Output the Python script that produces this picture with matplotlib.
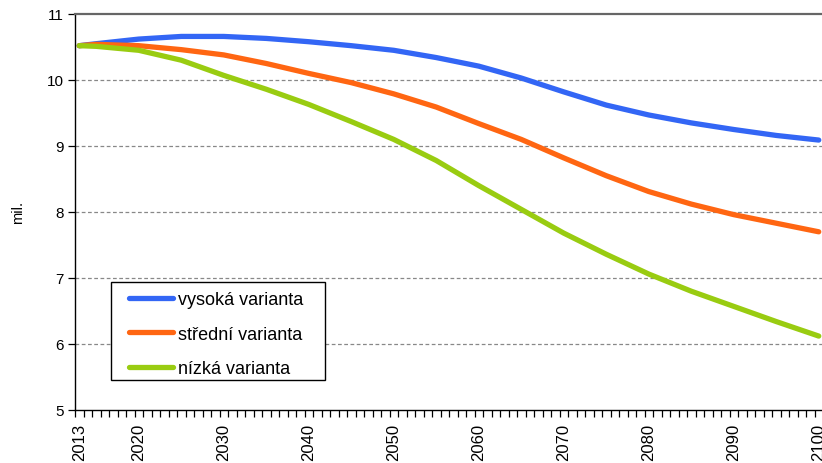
import matplotlib.pyplot as plt
import numpy as np
from matplotlib.patches import Rectangle

plt.rcParams['font.family'] = ['Liberation Sans', 'DejaVu Sans']

# roky a hodnoty (mil. obyvatel)
roky = [2013, 2015, 2020, 2025, 2030, 2035, 2040, 2045, 2050, 2055,
        2060, 2065, 2070, 2075, 2080, 2085, 2090, 2095, 2100]
vysoka = [10.52, 10.55, 10.62, 10.66, 10.66, 10.63, 10.58, 10.52, 10.45, 10.34,
          10.21, 10.03, 9.82, 9.62, 9.47, 9.35, 9.25, 9.16, 9.09]
stredni = [10.52, 10.54, 10.52, 10.46, 10.38, 10.25, 10.10, 9.96, 9.79, 9.59,
           9.34, 9.10, 8.82, 8.55, 8.31, 8.12, 7.96, 7.83, 7.70]
nizka = [10.52, 10.51, 10.45, 10.30, 10.07, 9.86, 9.63, 9.37, 9.10, 8.78,
         8.40, 8.04, 7.68, 7.36, 7.06, 6.80, 6.57, 6.34, 6.12]
popisky_x = [2013, 2020, 2030, 2040, 2050, 2060, 2070, 2080, 2090, 2100]

W, H = 822, 464
fig = plt.figure(figsize=(W / 100, H / 100), dpi=100)
ax = fig.add_axes([75 / W, 53 / H, 748 / W, 396 / H])

ax.plot(roky, vysoka, color='#3366f5', lw=3.8, label='vysoká varianta', solid_capstyle='round')
ax.plot(roky, stredni, color='#ff6612', lw=3.8, label='střední varianta', solid_capstyle='round')
ax.plot(roky, nizka, color='#99cc11', lw=3.8, label='nízká varianta', solid_capstyle='round')

ax.set_xlim(2012.5, 2100.5)
ax.set_ylim(5, 11)
ax.set_yticks(range(5, 12))
for g in range(6, 11):
    ax.axhline(g, color='#888888', lw=0.9, ls=(0, (3, 2)), zorder=0)

ax.set_xticks(popisky_x)
ax.set_xticklabels([str(r) for r in popisky_x], rotation=90, fontsize=12)
ax.set_xticks(np.arange(2012.5, 2101, 1), minor=True)
ax.tick_params(axis='x', which='major', length=0, pad=9)
ax.tick_params(axis='x', which='minor', length=5, width=0.9, direction='out')
ax.tick_params(axis='y', length=5, width=0.9, labelsize=11, pad=3)

ax.spines['right'].set_visible(False)
ax.spines['top'].set_color('#666666')
ax.spines['top'].set_linewidth(1.6)
ax.spines['left'].set_linewidth(1.0)
ax.spines['bottom'].set_linewidth(1.0)

fig.text(18 / W, 1 - 213 / H, 'mil.', rotation=90, ha='center', va='center', fontsize=10.5)

# legenda bez rámečku, rámeček zvlášť
leg = ax.legend(loc='upper left', bbox_to_anchor=(129 / W, 1 - 292 / H),
                bbox_transform=fig.transFigure, fontsize=13, frameon=False,
                handlelength=2.44, handletextpad=0.28, labelspacing=0.98,
                borderpad=0, borderaxespad=0)
leg.set_zorder(6)
ax.add_patch(Rectangle((111 / W, 1 - 381 / H), 214 / W, 98 / H,
                       transform=fig.transFigure, facecolor='white',
                       edgecolor='black', lw=1.0, zorder=5, clip_on=False))

fig.savefig('out.png', dpi=100)
